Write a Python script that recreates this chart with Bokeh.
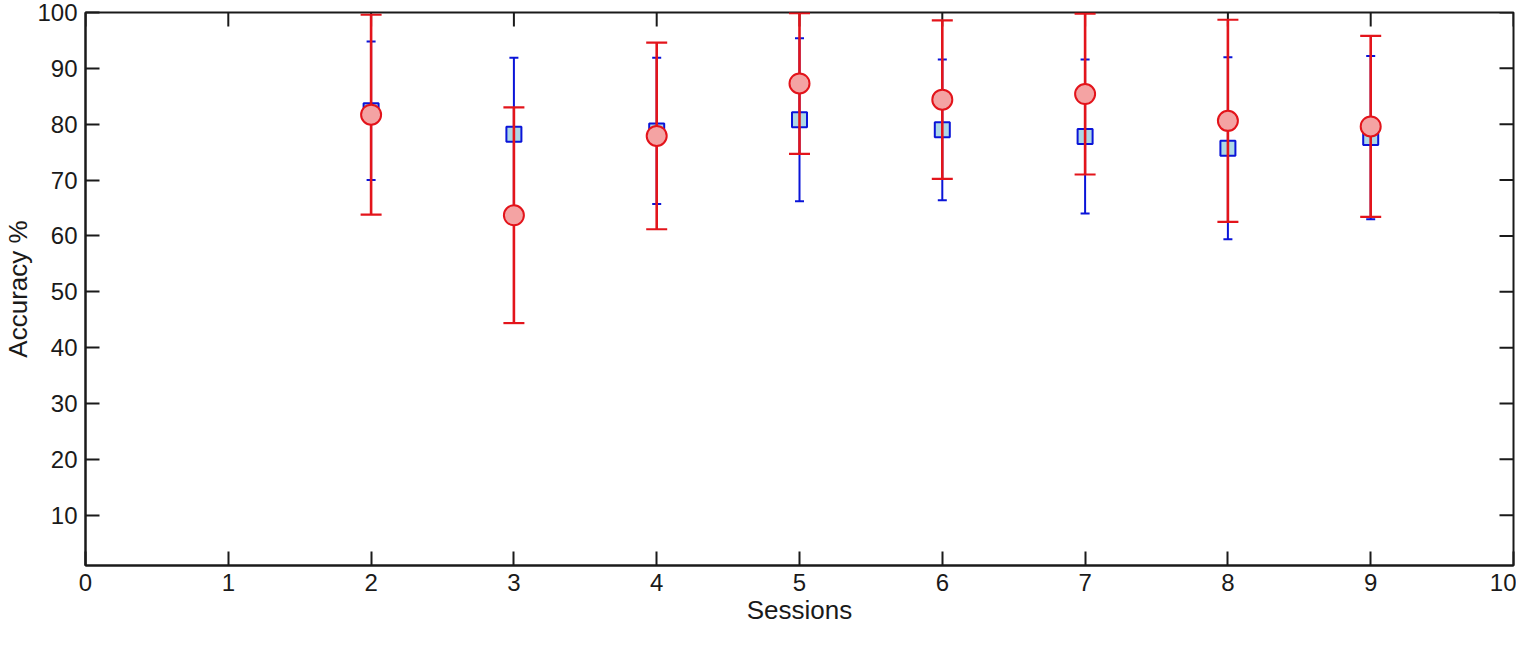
import math
from bokeh.plotting import figure
from bokeh.models import Range1d, FixedTicker, ColumnDataSource
from bokeh.embed import file_html
from bokeh.resources import INLINE

# ---- data ----
sessions = [2, 3, 4, 5, 6, 7, 8, 9]
blue_mean = [82.4, 78.2, 78.8, 80.8, 79.0, 77.8, 75.7, 77.6]
blue_err = [12.4, 13.7, 13.1, 14.6, 12.6, 13.8, 16.3, 14.6]
red_mean = [81.7, 63.7, 77.9, 87.3, 84.4, 85.4, 80.6, 79.6]
red_err = [17.9, 19.3, 16.7, 12.6, 14.2, 14.4, 18.1, 16.2]
x_ticks = [0, 1, 2, 3, 4, 5, 6, 7, 8, 9, 10]
y_ticks = [10, 20, 30, 40, 50, 60, 70, 80, 90, 100]
x_lim = (0, 10)
y_lim = (1, 100)

FONT = "Liberation Sans"
TICK_FS = "24px"
LABEL_FS = "26px"
AX = "#1a1a1a"
RED = "#e3141b"
RED_FILL = "#f4a3a3"
BLUE = "#0a14d8"
BLUE_FILL = "#add8e6"

blue_src = ColumnDataSource(dict(
    x=sessions, y=blue_mean,
    lo=[m - e for m, e in zip(blue_mean, blue_err)],
    hi=[m + e for m, e in zip(blue_mean, blue_err)],
))
red_src = ColumnDataSource(dict(
    x=sessions, y=red_mean,
    lo=[m - e for m, e in zip(red_mean, red_err)],
    hi=[m + e for m, e in zip(red_mean, red_err)],
))

p = figure(width=1516, height=630, output_backend="svg", toolbar_location=None,
           x_range=Range1d(*x_lim), y_range=Range1d(*y_lim),
           min_border_left=84, min_border_right=3, min_border_top=12, min_border_bottom=65)
p.grid.visible = False
p.outline_line_color = AX
p.outline_line_width = 2
p.background_fill_color = "white"
p.border_fill_color = "white"

# inward ticks on the top and right edges of the box
p.ray(x=x_ticks, y=[y_lim[1]] * len(x_ticks), length=14, length_units="screen",
      angle=-math.pi / 2, line_color=AX, line_width=2)
p.ray(x=[x_lim[1]] * len(y_ticks), y=y_ticks, length=14, length_units="screen",
      angle=math.pi, line_color=AX, line_width=2)

# blue series
p.segment(x0="x", y0="lo", x1="x", y1="hi", source=blue_src, line_color=BLUE, line_width=2)
p.scatter(x="x", y="hi", source=blue_src, marker="dash", size=9, line_color=BLUE, line_width=2)
p.scatter(x="x", y="lo", source=blue_src, marker="dash", size=9, line_color=BLUE, line_width=2)
p.scatter(x="x", y="y", source=blue_src, marker="square", size=15,
          fill_color=BLUE_FILL, line_color=BLUE, line_width=2)

# red series
p.segment(x0="x", y0="lo", x1="x", y1="hi", source=red_src, line_color=RED, line_width=2.6)
p.scatter(x="x", y="hi", source=red_src, marker="dash", size=21, line_color=RED, line_width=2.2)
p.scatter(x="x", y="lo", source=red_src, marker="dash", size=21, line_color=RED, line_width=2.2)
p.scatter(x="x", y="y", source=red_src, marker="circle", size=20,
          fill_color=RED_FILL, line_color=RED, line_width=2)


def style(ax, ticks):
    ax.ticker = FixedTicker(ticks=ticks)
    ax.minor_tick_line_color = None
    ax.major_tick_in = 14
    ax.major_tick_out = 0
    ax.major_tick_line_width = 2
    ax.major_tick_line_color = AX
    ax.axis_line_width = 2
    ax.axis_line_color = AX
    ax.major_label_text_font = FONT
    ax.major_label_text_font_size = TICK_FS
    ax.major_label_text_color = AX
    ax.axis_label_text_font = FONT
    ax.axis_label_text_font_size = LABEL_FS
    ax.axis_label_text_font_style = "normal"
    ax.axis_label_text_color = AX
    ax.axis_label_standoff = 1
    ax.major_label_standoff = 8


style(p.xaxis[0], x_ticks)
p.xaxis[0].axis_label = "Sessions"
style(p.yaxis[0], y_ticks)
p.yaxis[0].axis_label = "Accuracy %"
p.yaxis[0].major_label_standoff = 8

open("out.html", "w").write(file_html(p, INLINE))
